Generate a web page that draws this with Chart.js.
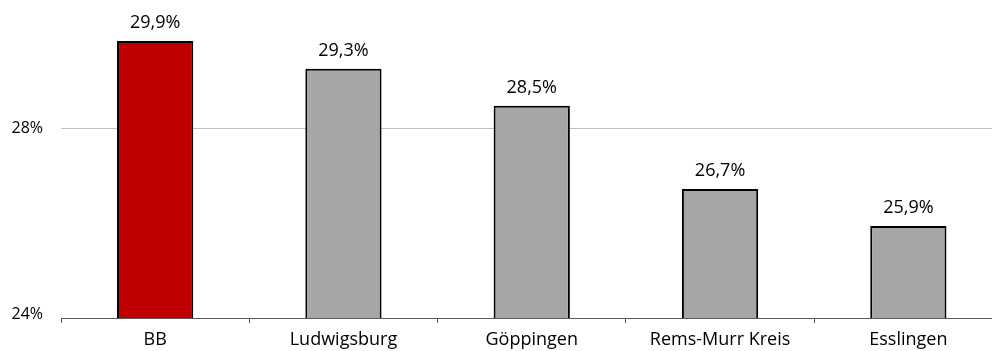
<!DOCTYPE html>
<html>
<head>
<meta charset="utf-8">
<script src="https://cdn.jsdelivr.net/npm/chart.js@4/dist/chart.umd.min.js"></script>
<style>
html,body{margin:0;padding:0;background:#fff;overflow:hidden;}
#wrap{position:absolute;left:0;top:0;width:1004px;height:351px;}
</style>
</head>
<body>
<div id="wrap"><canvas id="c" width="1004" height="351"></canvas></div>
<script>
const categories = ["BB", "Ludwigsburg", "Göppingen", "Rems-Murr Kreis", "Esslingen"];
const values = [29.9, 29.3, 28.5, 26.7, 25.9];
const barColors = ["#c00000", "#a6a6a6", "#a6a6a6", "#a6a6a6", "#a6a6a6"];
const yTicks = [24, 28];

const FONT = "'Open Sans', sans-serif";

const labelPlugin = {
  id: 'valueLabels',
  afterDatasetsDraw(chart) {
    const ctx = chart.ctx;
    const meta = chart.getDatasetMeta(0);
    ctx.save();
    ctx.font = "18px " + FONT;
    ctx.fillStyle = "#000";
    ctx.textAlign = "center";
    ctx.textBaseline = "alphabetic";
    meta.data.forEach((bar, i) => {
      ctx.fillText(values[i].toFixed(1).replace('.', ',') + '%', bar.x, bar.y - 13);
    });
    ctx.restore();
  }
};

new Chart(document.getElementById('c'), {
  type: 'bar',
  data: {
    labels: categories,
    datasets: [{
      data: values,
      backgroundColor: barColors,
      borderColor: "#000",
      borderWidth: 2,
      borderSkipped: false,
      categoryPercentage: 1,
      barPercentage: 0.405
    }]
  },
  options: {
    responsive: false,
    animation: false,
    layout: { padding: { left: 0, right: 1.5, top: 0, bottom: 0 } },
    plugins: { legend: { display: false }, tooltip: { enabled: false } },
    scales: {
      x: {
        offset: true,
        grid: { display: true, drawOnChartArea: false, drawTicks: true, tickLength: 5, color: "#595959", offset: true },
        border: { display: true, color: "#595959", width: 1 },
        ticks: { font: { family: FONT, size: 18 }, color: "#000", padding: 6, maxRotation: 0 },
        afterFit(s) { s.height = 33; }
      },
      y: {
        min: 23.914,
        max: 30.19,
        afterBuildTicks(s) { s.ticks = yTicks.map(v => ({ value: v })); },
        grid: { color: (c) => c.tick && c.tick.value === 24 ? "rgba(0,0,0,0)" : "#bfbfbf", drawTicks: false, lineWidth: 1 },
        border: { display: false },
        ticks: { font: { family: FONT, size: 16 }, color: "#000", padding: 18, callback: (v) => v + '%' },
        afterFit(s) { s.width = 61; }
      }
    }
  },
  plugins: [labelPlugin]
});
</script>
</body>
</html>
